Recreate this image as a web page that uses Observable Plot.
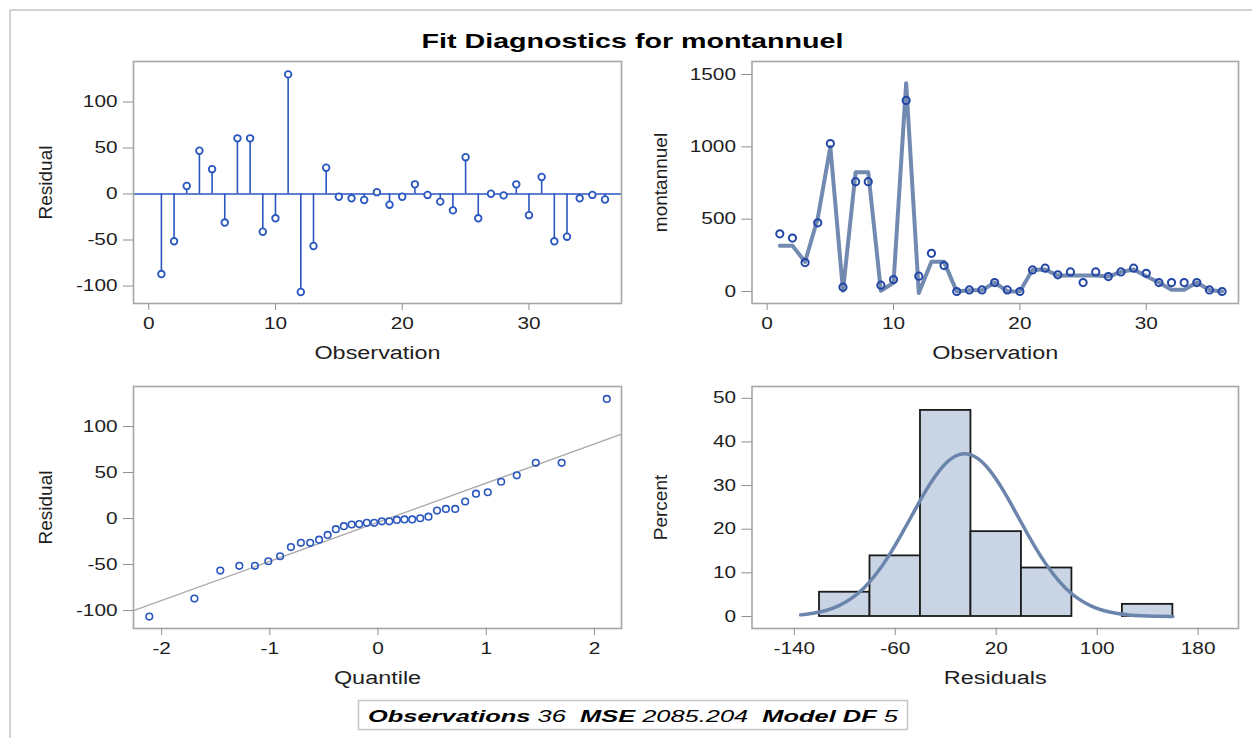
<!DOCTYPE html>
<html><head><meta charset="utf-8">
<script src="https://cdn.jsdelivr.net/npm/d3@7"></script>
<script src="https://cdn.jsdelivr.net/npm/@observablehq/plot@0.6"></script>
<style>
body{margin:0;background:#fff;}
#page{position:relative;width:1252px;height:738px;overflow:hidden;background:#fff;}
#page svg.panel{position:absolute;}
</style></head><body><div id="page"></div>
<script>
// ---------- data ----------
const observation = [1,2,3,4,5,6,7,8,9,10,11,12,13,14,15,16,17,18,19,20,21,22,23,24,25,26,27,28,29,30,31,32,33,34,35,36];
const residual = [-87,-51.4,8.7,47,27,-31,60.5,60.5,-41,-26.4,130,-106.5,-56.5,28.6,-3,-4.7,-6.5,2,-11.6,-3,10.5,-1,-8.3,-17.8,40,-26.4,0.3,-1.5,10.5,-23,18.5,-51.4,-46.4,-4.7,-1,-6];
const montannuelPoints = [399,369,200,475,1023,30,759,759,44,83,1321,106,264,179,0,11,11,62,11,0,149,161,115,135,62,135,103,135,161,126,62,62,62,62,11,0];
const montannuelLine = [317,317,205,505,1000,5,825,825,5,60,1440,-10,205,205,0,8,8,62,2,0,150,152,110,110,110,110,103,135,152,105,62,12,12,62,10,0];
const normalQuantile = [-2.114,-1.697,-1.458,-1.282,-1.138,-1.014,-0.905,-0.805,-0.713,-0.627,-0.545,-0.466,-0.390,-0.316,-0.244,-0.174,-0.104,-0.035,0.035,0.104,0.174,0.244,0.316,0.390,0.466,0.545,0.627,0.713,0.805,0.905,1.014,1.138,1.282,1.458,1.697,2.114];
const qqRefLine = {intercept: -4, slope: 42.5};
const binLow  = [-120,-80,-40,0,40,80,120];
const binHigh = [-80,-40,0,40,80,120,160];
const binPercent = [5.56,13.89,47.22,19.44,11.11,0,2.78];
const curveX = [-135,-125,-115,-105,-95,-85,-75,-65,-55,-45,-35,-25,-15,-5,5,15,25,35,45,55,65,75,85,95,105,115,125,135,145,160];
const curveY = [0.37,0.73,1.37,2.44,4.09,6.50,9.80,13.96,18.85,24.10,29.18,33.44,36.30,37.30,36.30,33.44,29.18,24.10,18.85,13.96,9.80,6.50,4.09,2.44,1.37,0.73,0.37,0.18,0.08,0.02];
const ticksObs = [0,10,20,30];
const ticksResid = [-100,-50,0,50,100];
const ticksMont = [0,500,1000,1500];
const ticksQuant = [-2,-1,0,1,2];
const ticksHistX = [-140,-60,20,100,180];
const ticksPercent = [0,10,20,30,40,50];
const titleText = "Fit Diagnostics for montannuel";
const captionParts = [["Observations", true], [" 36  ", false], ["MSE", true], [" 2085.204  ", false], ["Model DF", true], [" 5", false]];

// ---------- styling ----------
const FONT = "'Liberation Sans', Arial, sans-serif";
const stemBlue = "#2a56c0";
const markBlue = "#2346a6";
const fitColor = "#6b84ac";
const frameColor = "#a6a6a6";
const tickColor = "#8f8f8f";
const textColor = "#1e1e1e";
const page = document.getElementById("page");
const plain = d => String(d);

const resid = observation.map((o, i) => ({o, r: residual[i]}));
const mont = observation.map((o, i) => ({o, p: montannuelPoints[i], l: montannuelLine[i]}));
const sorted = residual.slice().sort((a, b) => a - b);
const qq = normalQuantile.map((q, i) => ({q, r: sorted[i]}));
const bins = binLow.map((lo, i) => ({lo, hi: binHigh[i], pct: binPercent[i]}));
const curve = curveX.map((x, i) => ({x, y: curveY[i]}));

function panel(cfg) {
  const plot = Plot.plot({
    width: cfg.width, height: cfg.height,
    marginLeft: cfg.mL, marginRight: cfg.mR, marginTop: cfg.mT, marginBottom: cfg.mB,
    x: {domain: cfg.xDomain}, y: {domain: cfg.yDomain},
    style: {background: "transparent", overflow: "visible", fontFamily: FONT, fontSize: "16px", color: textColor},
    marks: [
      ...cfg.marks,
      Plot.frame({stroke: frameColor, strokeWidth: 1.6}),
      Plot.axisX({ticks: cfg.xTicks, tickFormat: plain, tickSize: 7, tickPadding: 7, stroke: tickColor, fill: textColor, fontSize: 16, label: null}),
      Plot.axisY({ticks: cfg.yTicks, tickFormat: plain, tickSize: 10, tickPadding: 6, stroke: tickColor, fill: textColor, fontSize: 16, label: null}),
      Plot.text([cfg.xLabel], {text: d => d, frameAnchor: "bottom", textAnchor: "middle", dy: 55, fontSize: 18, fill: textColor}),
      Plot.text([cfg.yLabel], {text: d => d, frameAnchor: "left", textAnchor: "middle", dx: -(cfg.mL - cfg.yLabelX), rotate: -90, fontSize: 19, fill: textColor})
    ]
  });
  plot.classList.add("panel");
  plot.style.left = cfg.left + "px";
  plot.style.top = cfg.top + "px";
  page.append(plot);
  return plot;
}

const L = {left: 0, width: 630, mL: 133, mR: 9};
const R = {left: 630, width: 622, mL: 121.5, mR: 14};
const T = {top: 50, height: 330, mT: 11, mB: 77};
const B = {top: 375, height: 340, mT: 11, mB: 87};

panel({...L, ...T, xDomain: [-1.2, 37.3], yDomain: [-119, 144], xTicks: ticksObs, yTicks: ticksResid,
  xLabel: "Observation", yLabel: "Residual", yLabelX: 45,
  marks: [
    Plot.ruleY([0], {stroke: stemBlue, strokeWidth: 1.6}),
    Plot.ruleX(resid, {x: "o", y1: 0, y2: "r", stroke: stemBlue, strokeWidth: 1.6}),
    Plot.dot(resid, {x: "o", y: "r", r: 3.3, stroke: stemBlue, strokeWidth: 1.8, fill: "white"})
  ]});

panel({...R, ...T, xDomain: [-1.2, 37.3], yDomain: [-83, 1590], xTicks: ticksObs, yTicks: ticksMont,
  xLabel: "Observation", yLabel: "montannuel", yLabelX: 30,
  marks: [
    Plot.line(mont, {x: "o", y: "l", stroke: fitColor, strokeWidth: 4, strokeOpacity: 0.95}),
    Plot.dot(mont, {x: "o", y: "p", r: 3.6, stroke: markBlue, strokeWidth: 2, fill: "none"})
  ]});

const qqDomain = [-2.26, 2.25];
const qqLine = qqDomain.map(q => ({q, r: qqRefLine.intercept + qqRefLine.slope * q}));
panel({...L, ...B, xDomain: qqDomain, yDomain: [-119.5, 143.5], xTicks: ticksQuant, yTicks: ticksResid,
  xLabel: "Quantile", yLabel: "Residual", yLabelX: 45,
  marks: [
    Plot.line(qqLine, {x: "q", y: "r", stroke: "#a9a9a9", strokeWidth: 1.3}),
    Plot.dot(qq, {x: "q", y: "r", r: 3.3, stroke: stemBlue, strokeWidth: 1.6, fill: "none"})
  ]});

panel({...R, ...B, xDomain: [-173.5, 212], yDomain: [-2.75, 52.7], xTicks: ticksHistX, yTicks: ticksPercent,
  xLabel: "Residuals", yLabel: "Percent", yLabelX: 30,
  marks: [
    Plot.rectY(bins, {x1: "lo", x2: "hi", y1: 0, y2: "pct", fill: "#c9d4e5", stroke: "#1a1a1a", strokeWidth: 1.8}),
    Plot.line(curve, {x: "x", y: "y", curve: "natural", stroke: fitColor, strokeWidth: 3.5})
  ]});

// ---------- overlay: frame lines, title, caption ----------
const NS = "http://www.w3.org/2000/svg";
const ov = document.createElementNS(NS, "svg");
ov.setAttribute("width", 1252); ov.setAttribute("height", 738);
ov.style.position = "absolute"; ov.style.left = "0px"; ov.style.top = "0px";
ov.innerHTML = `
  <line x1="10" y1="10" x2="1252" y2="10" stroke="#d2d2d2" stroke-width="2"/>
  <line x1="10" y1="10" x2="10" y2="738" stroke="#d2d2d2" stroke-width="2"/>
  <rect x="358.5" y="700.5" width="549" height="29" fill="white" stroke="#c4c4c4" stroke-width="1.5"/>`;
const title = document.createElementNS(NS, "text");
title.setAttribute("x", 632.5); title.setAttribute("y", 48);
title.setAttribute("text-anchor", "middle");
title.setAttribute("font-family", FONT); title.setAttribute("font-size", 21); title.setAttribute("font-weight", "bold");
title.setAttribute("fill", "#000");
title.textContent = titleText;
title.setAttribute("textLength", 422); title.setAttribute("lengthAdjust", "spacingAndGlyphs");
ov.append(title);
const cap = document.createElementNS(NS, "text");
cap.setAttribute("x", 368); cap.setAttribute("y", 722);
cap.setAttribute("font-family", FONT); cap.setAttribute("font-size", 17); cap.setAttribute("font-style", "italic");
cap.setAttribute("fill", "#000"); cap.style.whiteSpace = "pre";
for (const [t, b] of captionParts) {
  const s = document.createElementNS(NS, "tspan");
  if (b) s.setAttribute("font-weight", "bold");
  s.textContent = t;
  cap.append(s);
}
cap.setAttribute("textLength", 530); cap.setAttribute("lengthAdjust", "spacingAndGlyphs");
ov.append(cap);
page.append(ov);

// horizontal stretch of panel texts (reference image is horizontally stretched)
document.querySelectorAll("svg.panel text").forEach(t => {
  const tr = (t.getAttribute("transform") || "") + (t.parentNode.getAttribute("transform") || "");
  if (tr.includes("rotate")) return;
  const len = t.getComputedTextLength();
  if (len > 0) {
    t.setAttribute("textLength", (len * 1.3).toFixed(1));
    t.setAttribute("lengthAdjust", "spacingAndGlyphs");
  }
});
</script></body></html>
